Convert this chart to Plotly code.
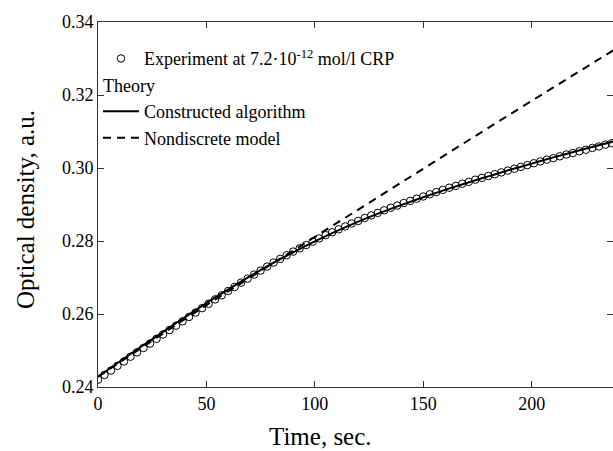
import plotly.graph_objects as go

# Experimental data (time, s ; optical density, a.u.)
exp_t = [0, 3, 6, 9, 12, 15, 18, 21, 24, 27, 30, 33, 36, 39, 42, 45, 48, 51, 54, 57,
         60, 63, 66, 69, 72, 75, 78, 81, 84, 87, 90, 93, 96, 99, 102, 105, 108, 111, 114, 117,
         120, 123, 126, 129, 132, 135, 138, 141, 144, 147, 150, 153, 156, 159, 162, 165, 168, 171, 174, 177,
         180, 183, 186, 189, 192, 195, 198, 201, 204, 207, 210, 213, 216, 219, 222, 225, 228, 231, 234, 237]
exp_od = [0.2420, 0.2433, 0.2445, 0.2458, 0.2470, 0.2483, 0.2495, 0.2507, 0.2519, 0.2532,
          0.2544, 0.2556, 0.2568, 0.2580, 0.2592, 0.2604, 0.2616, 0.2628, 0.2640, 0.2651,
          0.2663, 0.2674, 0.2686, 0.2697, 0.2708, 0.2719, 0.2730, 0.2741, 0.2751, 0.2761,
          0.2771, 0.2780, 0.2789, 0.2798, 0.2807, 0.2816, 0.2824, 0.2832, 0.2840, 0.2848,
          0.2855, 0.2863, 0.2870, 0.2877, 0.2884, 0.2891, 0.2897, 0.2904, 0.2910, 0.2916,
          0.2922, 0.2928, 0.2934, 0.2940, 0.2946, 0.2951, 0.2957, 0.2962, 0.2968, 0.2973,
          0.2978, 0.2983, 0.2988, 0.2993, 0.2998, 0.3003, 0.3008, 0.3013, 0.3018, 0.3023,
          0.3027, 0.3032, 0.3037, 0.3041, 0.3046, 0.3050, 0.3055, 0.3059, 0.3064, 0.3068]

# Theory: constructed algorithm
alg_t = [0, 10, 20, 30, 40, 50, 60, 70, 80, 90, 100, 110, 120,
         130, 140, 150, 160, 170, 180, 190, 200, 210, 220, 230, 240]
alg_od = [0.2428, 0.2470, 0.2511, 0.2551, 0.2591, 0.2630, 0.2667, 0.2703, 0.2737, 0.2769,
          0.2799, 0.2827, 0.2853, 0.2877, 0.2899, 0.2920, 0.2940, 0.2959, 0.2977, 0.2995,
          0.3012, 0.3029, 0.3045, 0.3061, 0.3076]

# Theory: nondiscrete model
nd_t = [0, 20, 40, 60, 80, 100, 120, 140, 160, 180, 200, 220, 240]
nd_od = [0.2428, 0.2508, 0.2586, 0.2662, 0.2737, 0.2811, 0.2886, 0.2961,
         0.3036, 0.3110, 0.3184, 0.3258, 0.3331]

x_ticks = [0, 50, 100, 150, 200]
y_ticks = [0.24, 0.26, 0.28, 0.30, 0.32, 0.34]

FONT = "Liberation Serif"

fig = go.Figure()
fig.add_trace(go.Scatter(
    x=exp_t, y=exp_od, mode="markers",
    name="Experiment at 7.2·10<sup>-12</sup> mol/l CRP",
    legendgroup="exp",
    marker=dict(symbol="circle-open", size=7.5, color="black", line=dict(width=1, color="black")),
))
fig.add_trace(go.Scatter(
    x=alg_t, y=alg_od, mode="lines", line_shape="spline",
    name="Constructed algorithm",
    legendgroup="theory", legendgrouptitle=dict(text="Theory", font=dict(family=FONT, size=18, color="black")),
    line=dict(color="black", width=2),
))
fig.add_trace(go.Scatter(
    x=nd_t, y=nd_od, mode="lines",
    name="Nondiscrete model",
    legendgroup="theory",
    line=dict(color="black", width=2, dash="8px,6px"),
))

axis_common = dict(
    showline=True, linecolor="#333333", linewidth=1,
    ticks="inside", ticklen=6, tickwidth=1, tickcolor="#333333",
    mirror="ticks", showgrid=False, zeroline=False,
    tickfont=dict(family=FONT, size=18, color="black"),
)

fig.update_layout(
    width=613, height=451,
    margin=dict(l=98, r=0, t=22, b=64),
    paper_bgcolor="white", plot_bgcolor="white",
    font=dict(family=FONT, size=18, color="black"),
    showlegend=True,
    legend=dict(
        x=0.0, y=0.95, xanchor="left", yanchor="top",
        bgcolor="rgba(0,0,0,0)", borderwidth=0,
        tracegroupgap=0, groupclick="toggleitem", itemwidth=36,
        font=dict(family=FONT, size=18, color="black"),
    ),
    xaxis=dict(range=[0, 237.5], tickvals=x_ticks, **axis_common),
    yaxis=dict(range=[0.24, 0.34], tickvals=y_ticks, tickformat=".2f", **axis_common),
    annotations=[
        dict(text="Time, sec.", xref="paper", yref="paper", x=(320 - 98) / 515, y=-(436 - 387) / 365,
             xanchor="center", yanchor="middle", showarrow=False,
             font=dict(family=FONT, size=25, color="black")),
        dict(text="Optical density, a.u.", xref="paper", yref="paper", x=-(98 - 25) / 515, y=1 - (210 - 22) / 365,
             xanchor="center", yanchor="middle", textangle=-90, showarrow=False,
             font=dict(family=FONT, size=25, color="black")),
    ],
)

fig.write_html("out.html")
